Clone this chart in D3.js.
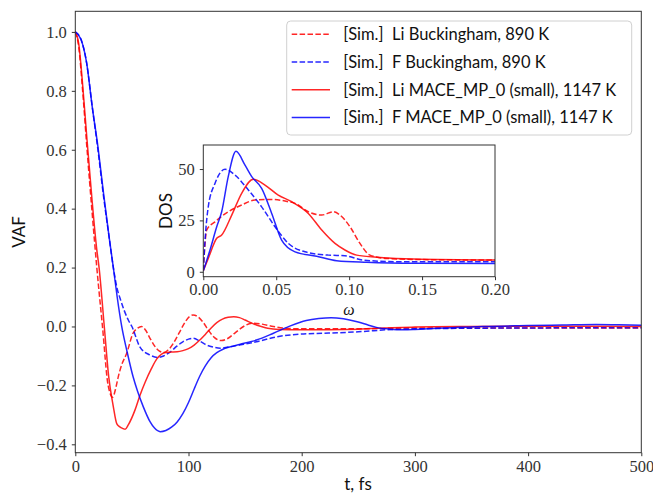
<!DOCTYPE html>
<meta charset="utf-8">
<style>
body { margin: 0; background: #fff; }
</style>
<script src="https://d3js.org/d3.v7.min.js"></script>
<body>
<svg width="653" height="493"></svg>
<script>

// VAF curves, [t (fs), value]
var liBuck = [[0,1.0],[3,0.95],[6.5,0.8],[10,0.62],[15,0.38],[19,0.2],[24,0.0],[29,-0.2],[33,-0.24],[36,-0.205],
  [38,-0.17],[41,-0.13],[45.4,-0.091],[51,-0.023],[55,-0.006],[58.6,0.0],[62,-0.012],[66,-0.04],[70,-0.066],[74,-0.083],
  [78,-0.088],[82,-0.08],[87,-0.055],[92,-0.02],[97,0.015],[101,0.034],[104,0.039],[108,0.034],[113,0.014],[118,-0.015],
  [123,-0.038],[129,-0.048],[135,-0.04],[140,-0.025],[145,-0.01],[150,0.003],[157,0.011],[165,0.008],[175,0.0],[185,-0.006],
  [200,-0.008],[250,-0.008],[300,-0.005],[400,-0.005],[500,-0.005]];

var fBuck = [[0,1.0],[5,0.975],[10,0.895],[15,0.745],[20,0.6],[25,0.44],[30,0.3],[33.6,0.2],[36.6,0.135],[40,0.09],
  [46.8,0.022],[50,0.0],[57,-0.069],[66,-0.097],[73,-0.105],[78,-0.1],[84,-0.086],[90,-0.066],[95,-0.052],[100,-0.043],
  [104,-0.04],[110,-0.05],[116,-0.063],[122,-0.07],[128,-0.074],[135,-0.07],[145,-0.063],[160,-0.052],[178,-0.035],
  [198,-0.026],[220,-0.023],[250,-0.018],[280,-0.01],[300,-0.008],[350,-0.006],[400,-0.005],[500,-0.004]];

var liMace = [[0,1.0],[3,0.96],[6.5,0.82],[10,0.65],[15,0.42],[19,0.26],[21,0.2],[25.6,0.0],[29.5,-0.17],[33.5,-0.27],
  [36.6,-0.33],[39,-0.34],[42.4,-0.347],[44,-0.349],[46.8,-0.334],[52.7,-0.284],[57,-0.235],[61.6,-0.19],[67,-0.145],
  [72,-0.11],[80,-0.088],[85,-0.087],[90,-0.086],[95,-0.082],[100,-0.075],[105,-0.063],[110,-0.046],[115,-0.026],
  [120,-0.005],[125,0.013],[130,0.025],[135,0.031],[140,0.033],[145,0.03],[150,0.022],[155,0.013],[160,0.005],
  [165,-0.001],[170,-0.006],[180,-0.01],[200,-0.011],[250,-0.009],[280,-0.004],[300,-0.002],[350,0.0],[400,0.001],[500,0.0]];

var fMace = [[0,1.0],[5,0.975],[10,0.895],[15,0.745],[20,0.61],[25,0.45],[30,0.3],[33.6,0.2],[37,0.1],[41,0.0],
  [46,-0.09],[51,-0.17],[55,-0.22],[60,-0.272],[66,-0.323],[70,-0.345],[75,-0.357],[80,-0.353],[85,-0.342],[90,-0.324],
  [95,-0.296],[100,-0.258],[105,-0.212],[110,-0.168],[115,-0.133],[120,-0.106],[125,-0.089],[130,-0.078],[137,-0.069],
  [145,-0.061],[160,-0.046],[175,-0.023],[190,0.002],[204,0.02],[215,0.027],[226,0.03],[237,0.026],[249,0.016],
  [258,0.006],[266,-0.003],[278,-0.009],[290,-0.011],[300,-0.01],[320,-0.006],[340,-0.003],[360,0.0],[400,0.003],
  [430,0.005],[460,0.007],[480,0.006],[500,0.004]];

// DOS curves, [omega, value]
var dosLiBuck = [[0,0.5],[0.0012,14],[0.0023,20.3],[0.008,24.3],[0.0171,29.2],[0.0263,32.5],[0.0354,34.9],[0.0469,35.2],
  [0.0583,34.1],[0.0629,33.3],[0.072,29.2],[0.0812,27.6],[0.0891,29.2],[0.0937,27.6],[0.1006,21.9],[0.1074,13.8],
  [0.1143,8.1],[0.1257,6.5],[0.144,6.0],[0.2,5.7]];

var dosFBuck = [[0,0.5],[0.0012,15.4],[0.0034,31.6],[0.008,43],[0.0149,49.9],[0.0217,47.1],[0.0309,39.8],[0.04,31.6],
  [0.0492,21.9],[0.0583,13.8],[0.0697,9.7],[0.0857,8.1],[0.0971,7.8],[0.1097,5.7],[0.1326,4.9],[0.2,4.9]];

var dosLiMace = [[0,0.5],[0.0034,6.5],[0.0092,16.3],[0.0126,17.9],[0.0195,27.6],[0.0263,38.2],[0.0343,45],[0.0423,42.2],
  [0.0514,37.3],[0.0606,34.1],[0.072,28.4],[0.0812,20.3],[0.0903,13.8],[0.0971,10.6],[0.1052,8.1],[0.1211,7.0],
  [0.144,6.2],[0.2,5.7]];

var dosFMace = [[0,0.5],[0.0046,10.6],[0.0092,21.9],[0.0126,29.2],[0.0171,46.3],[0.0224,58.6],[0.0286,51.9],[0.0332,46.3],
  [0.04,40.6],[0.0469,28.4],[0.0537,15.4],[0.0629,9.7],[0.0777,7.6],[0.0914,5.4],[0.112,4.6],[0.146,4.1],[0.2,4.0]];

var legendLabels = ["[Sim.]  Li Buckingham, 890 K", "[Sim.]  F Buckingham, 890 K",
  "[Sim.]  Li MACE_MP_0 (small), 1147 K", "[Sim.]  F MACE_MP_0 (small), 1147 K"];

var series = [
  {vaf: liBuck, dos: dosLiBuck, color: "#ff0000", dash: "5.5,2.4"},
  {vaf: fBuck, dos: dosFBuck, color: "#0000ff", dash: "5.5,2.4"},
  {vaf: liMace, dos: dosLiMace, color: "#ff0000", dash: null},
  {vaf: fMace, dos: dosFMace, color: "#0000ff", dash: null}
];

var serif = "'Liberation Serif', 'DejaVu Serif', serif";
var sans = "Lato, 'Open Sans', sans-serif";

var svg = d3.select("svg");

var x = d3.scaleLinear().domain([0, 500]).range([75.3, 641.3]);
var y = d3.scaleLinear().domain([-0.4285, 1.07]).range([452.7, 11.3]);

var line = d3.line()
    .x(function(d) { return x(d[0]); })
    .y(function(d) { return y(d[1]); })
    .curve(d3.curveMonotoneX);

var main = svg.append("g");

main.selectAll("path.vaf")
  .data(series)
  .enter().append("path")
    .attr("class", "vaf")
    .attr("fill", "none")
    .attr("stroke", function(d) { return d.color; })
    .attr("stroke-opacity", 0.85)
    .attr("stroke-width", 1.5)
    .attr("stroke-dasharray", function(d) { return d.dash; })
    .attr("d", function(d) { return line(d.vaf); });

main.append("rect")
    .attr("x", 75.3).attr("y", 11.3)
    .attr("width", 566).attr("height", 441.4)
    .attr("fill", "none").attr("stroke", "#333").attr("stroke-width", 1);

function fmt(v, n) {
  var s = d3.format("." + n + "f")(v);
  return s.replace("-", "\u2212");
}

function styleAxis(g) {
  g.attr("font-family", serif).attr("font-size", 16.5);
  g.select(".domain").remove();
  g.selectAll("line").attr("stroke", "#333");
  g.selectAll("text")
    .style("font-family", serif)
    .style("font-size", "16.5px")
    .attr("fill", "#333");
}

main.append("g")
    .attr("transform", "translate(0,452.7)")
    .call(d3.axisBottom(x).tickValues([0, 100, 200, 300, 400, 500]).tickSize(3.5).tickPadding(4).tickFormat(function(d) { return d; }))
    .call(styleAxis);

main.append("g")
    .attr("transform", "translate(75.3,0)")
    .call(d3.axisLeft(y).tickValues([-0.4, -0.2, 0, 0.2, 0.4, 0.6, 0.8, 1.0]).tickSize(3.5).tickPadding(5).tickFormat(function(d) { return fmt(d, 1); }))
    .call(styleAxis);

svg.append("text")
    .attr("transform", "translate(25,232) rotate(-90)")
    .attr("text-anchor", "middle")
    .style("font-family", sans).style("font-size", "17px").attr("fill", "#111")
    .text("VAF");

svg.append("text")
    .attr("x", 358).attr("y", 490)
    .attr("text-anchor", "middle")
    .style("font-family", sans).style("font-size", "17px").attr("fill", "#111")
    .text("t, fs");

// legend
var leg = svg.append("g");
leg.append("rect")
    .attr("x", 286.7).attr("y", 21)
    .attr("width", 345).attr("height", 114)
    .attr("rx", 4)
    .attr("fill", "#fff").attr("fill-opacity", 0.8)
    .attr("stroke", "#d0d0d0");

var rows = leg.selectAll("g.row")
  .data(series)
  .enter().append("g")
    .attr("class", "row")
    .attr("transform", function(d, i) { return "translate(0," + (34.3 + i * 27.7) + ")"; });

rows.append("line")
    .attr("x1", 291.7).attr("x2", 330)
    .attr("stroke", function(d) { return d.color; })
    .attr("stroke-opacity", 0.85)
    .attr("stroke-width", 1.5)
    .attr("stroke-dasharray", function(d) { return d.dash; });

rows.append("text")
    .attr("x", 343.3).attr("y", 6)
    .style("font-family", sans).style("font-size", "16.5px").style("white-space", "pre")
    .attr("fill", "#111")
    .text(function(d, i) { return legendLabels[i]; });

// inset
var ix = d3.scaleLinear().domain([0, 0.2]).range([203.3, 495]);
var iy = d3.scaleLinear().domain([-2.4, 61.7]).range([276.7, 145]);

var iline = d3.line()
    .x(function(d) { return ix(d[0]); })
    .y(function(d) { return iy(d[1]); })
    .curve(d3.curveMonotoneX);

var inset = svg.append("g");
inset.append("rect")
    .attr("x", 203.3).attr("y", 145)
    .attr("width", 291.7).attr("height", 131.7)
    .attr("fill", "#fff");

svg.append("clipPath").attr("id", "iclip")
  .append("rect")
    .attr("x", 203.3).attr("y", 145)
    .attr("width", 291.7).attr("height", 131.7);

inset.append("g").attr("clip-path", "url(#iclip)")
  .selectAll("path")
  .data(series)
  .enter().append("path")
    .attr("fill", "none")
    .attr("stroke", function(d) { return d.color; })
    .attr("stroke-opacity", 0.85)
    .attr("stroke-width", 1.5)
    .attr("stroke-dasharray", function(d) { return d.dash; })
    .attr("d", function(d) { return iline(d.dos); });

inset.append("rect")
    .attr("x", 203.3).attr("y", 145)
    .attr("width", 291.7).attr("height", 131.7)
    .attr("fill", "none").attr("stroke", "#333").attr("stroke-width", 1);

inset.append("g")
    .attr("transform", "translate(0,276.7)")
    .call(d3.axisBottom(ix).tickValues([0, 0.05, 0.1, 0.15, 0.2]).tickSize(3.5).tickPadding(3).tickFormat(function(d) { return fmt(d, 2); }))
    .call(styleAxis);

inset.append("g")
    .attr("transform", "translate(203.3,0)")
    .call(d3.axisLeft(iy).tickValues([0, 25, 50]).tickSize(3.5).tickPadding(5).tickFormat(function(d) { return d; }))
    .call(styleAxis);

svg.append("text")
    .attr("transform", "translate(172,211) rotate(-90)")
    .attr("text-anchor", "middle")
    .style("font-family", sans).style("font-size", "17px").attr("fill", "#111")
    .text("DOS");

svg.append("text")
    .attr("x", 349).attr("y", 315)
    .attr("text-anchor", "middle")
    .style("font-family", serif)
    .style("font-style", "italic")
    .style("font-size", "16px")
    .attr("fill", "#111")
    .text("\u03c9");

</script>
</body>
